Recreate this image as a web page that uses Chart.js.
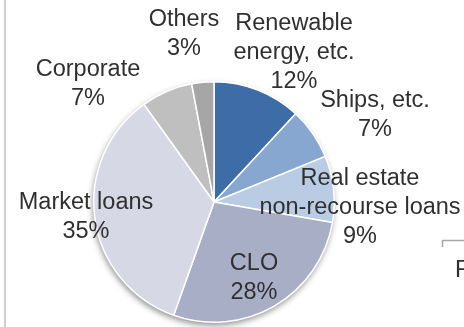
<!DOCTYPE html>
<html>
<head>
<meta charset="utf-8">
<script src="https://cdn.jsdelivr.net/npm/chart.js@4/dist/chart.umd.min.js"></script>
<style>
  html, body { margin: 0; padding: 0; background: #ffffff; }
  #wrap { width: 464px; height: 327px; position: relative; }
</style>
</head>
<body>
<div id="wrap"><canvas id="c" width="464" height="327"></canvas></div>
<script>
// ---- data ----
const categories = [
  ["Renewable", "energy, etc."],
  ["Ships, etc."],
  ["Real estate", "non-recourse loans"],
  ["CLO"],
  ["Market loans"],
  ["Corporate"],
  ["Others"]
];
const shares = [12, 7, 9, 28, 35, 7, 3];

// ---- styles ----
const sliceColors = ["#3E6CA7", "#87A7D0", "#B9CCE4", "#A9AEC7", "#D6D8E5", "#BFBFBF", "#A6A6A6"];
// label block centre offsets from the pie centre (px)
const labelOffsets = [[80, -149], [161, -87], [146, 6], [40, 76], [-128, 15], [-126, -118], [-30, -168]];
const FONT = '23.5px "Liberation Sans", Arial, sans-serif';
const LINE_H = 29;

const decor = {
  id: 'decor',
  beforeDatasetsDraw(chart) {
    const arc = chart.getDatasetMeta(0).data[0];
    if (!arc) return;
    const ctx = chart.ctx;
    ctx.save();
    ctx.shadowColor = 'rgba(0,0,0,0.45)';
    ctx.shadowBlur = 6;
    ctx.shadowOffsetX = -1;
    ctx.shadowOffsetY = 3;
    ctx.fillStyle = '#ffffff';
    ctx.beginPath();
    ctx.arc(arc.x, arc.y, arc.outerRadius, 0, Math.PI * 2);
    ctx.fill();
    ctx.restore();
  },
  afterDraw(chart) {
    const ctx = chart.ctx;
    const meta = chart.getDatasetMeta(0);
    ctx.save();
    // left frame line
    ctx.strokeStyle = '#cfcfcf';
    ctx.lineWidth = 2;
    ctx.beginPath();
    ctx.moveTo(5, 0);
    ctx.lineTo(5, chart.height);
    ctx.stroke();
    // bracket at right
    ctx.strokeStyle = '#a6a6a6';
    ctx.lineWidth = 1.5;
    ctx.beginPath();
    ctx.moveTo(442.5, 247);
    ctx.lineTo(442.5, 240.5);
    ctx.lineTo(464, 240.5);
    ctx.stroke();
    // labels
    ctx.font = FONT;
    ctx.fillStyle = '#303030';
    ctx.textAlign = 'center';
    ctx.textBaseline = 'middle';
    meta.data.forEach((a, i) => {
      const lines = categories[i].concat([shares[i] + '%']);
      const cx = a.x + labelOffsets[i][0];
      const cy = a.y + labelOffsets[i][1];
      const top = cy - (lines.length - 1) * LINE_H / 2;
      lines.forEach((t, k) => ctx.fillText(t, cx, top + k * LINE_H));
    });
    ctx.textAlign = 'left';
    ctx.fillText('F', 455, 271);
    ctx.restore();
  }
};

new Chart(document.getElementById('c'), {
  type: 'pie',
  data: {
    labels: categories.map(c => c.join(' ')),
    datasets: [{
      data: shares,
      backgroundColor: sliceColors,
      borderColor: '#ffffff',
      borderWidth: 1.5
    }]
  },
  options: {
    responsive: false,
    animation: false,
    rotation: 0,
    layout: { padding: { left: 93, right: 129, top: 81, bottom: 4 } },
    plugins: { legend: { display: false }, tooltip: { enabled: false } }
  },
  plugins: [decor]
});
</script>
</body>
</html>
